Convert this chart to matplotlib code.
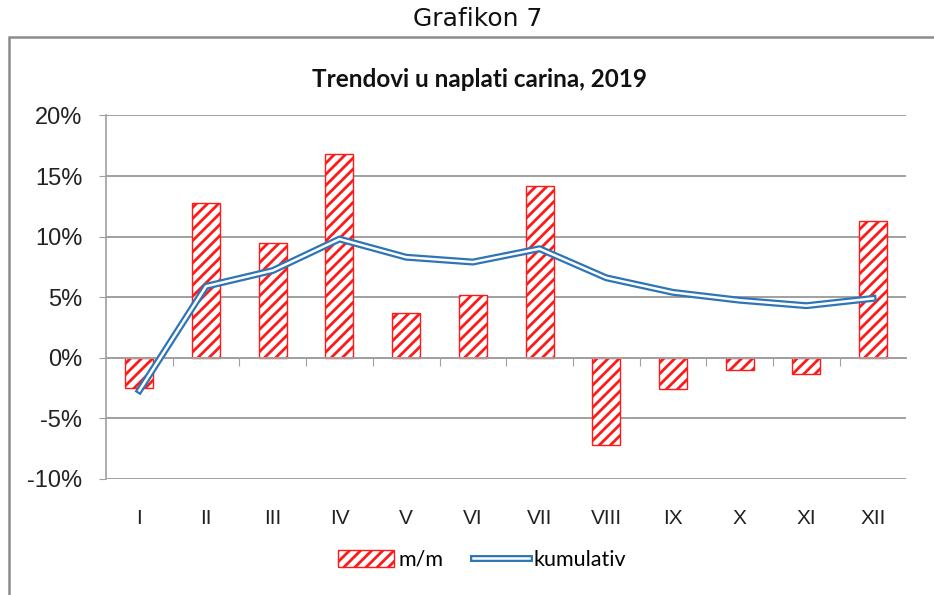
import matplotlib
matplotlib.use("Agg")
import matplotlib.pyplot as plt
from matplotlib.patches import Patch, Rectangle
from matplotlib.lines import Line2D
import matplotlib.patheffects as pe
import matplotlib.transforms as mtransforms
import numpy as np

months = ["I", "II", "III", "IV", "V", "VI", "VII", "VIII", "IX", "X", "XI", "XII"]
mm = [-2.5, 12.8, 9.5, 16.8, 3.7, 5.2, 14.2, -7.2, -2.6, -1.0, -1.3, 11.3]
kumulativ = [-2.7, 5.9, 7.2, 9.8, 8.3, 7.9, 9.0, 6.6, 5.4, 4.75, 4.3, 4.9]
yticks = [-10, -5, 0, 5, 10, 15, 20]

RED = "#ff1a1a"
BLUE = "#2e75b6"
GRID = "#a0a0a0"

plt.rcParams["hatch.linewidth"] = 2.0
plt.rcParams["font.family"] = ["Liberation Sans", "DejaVu Sans"]

fig = plt.figure(figsize=(9.34, 5.95), dpi=100)
ax = fig.add_axes([0.1135, 0.195, 0.857, 0.611])

# double line look: white core with blue outline
double = [pe.Stroke(linewidth=5.0, foreground=BLUE), pe.Normal()]

x = np.arange(len(months))
ax.bar(x, mm, width=0.42, color="white", edgecolor=RED, hatch="///",
       linewidth=1.0, zorder=2)
ax.plot(x, kumulativ, color="white", lw=1.8, solid_joinstyle="round",
        path_effects=double, zorder=3)

ax.set_xlim(-0.5, len(months) - 0.5)
ax.set_ylim(-10, 20)
ax.set_yticks(yticks)
ax.set_yticklabels([f"{v}%" for v in yticks], fontsize=17, color="#222222")
ax.yaxis.grid(True, color=GRID, lw=1.4, zorder=0)
ax.set_axisbelow(True)

for s in ["top", "right"]:
    ax.spines[s].set_visible(False)
ax.spines["left"].set_color(GRID)
ax.spines["left"].set_linewidth(1.2)
ax.spines["bottom"].set_position(("data", 0))
ax.spines["bottom"].set_color(GRID)
ax.spines["bottom"].set_linewidth(1.4)
ax.tick_params(axis="y", length=5, color=GRID, pad=12)
ax.set_xticks(np.arange(0.5, len(months) - 0.5))
ax.set_xticklabels([])
ax.tick_params(axis="x", length=6, color=GRID, direction="out")

trans = mtransforms.blended_transform_factory(ax.transData, ax.transAxes)
for xi, lab in zip(x, months):
    ax.text(xi, -0.083, lab, transform=trans, ha="center", va="top",
            fontsize=15, color="#222222")

fig.text(0.513, 0.866, "Trendovi u naplati carina, 2019", ha="center", va="center",
         fontsize=17.5, fontweight="bold", family=["Lato", "DejaVu Sans"],
         color="#111111")

fig.text(0.511, 0.968, "Grafikon 7", ha="center", va="center", fontsize=18,
         family="DejaVu Sans", color="#111111")

fig.add_artist(Rectangle((9 / 934, -0.2), 1.2, 1.2 - 37 / 595,
                         transform=fig.transFigure, fill=False,
                         edgecolor="#8c8c8c", lw=1.8))

handles = [Patch(facecolor="white", edgecolor=RED, hatch="///", lw=1.0),
           Line2D([], [], color="white", lw=1.8, path_effects=double)]
fig.legend(handles, ["m/m", "kumulativ"], loc="center", bbox_to_anchor=(0.516, 0.059),
           ncol=2, frameon=False, handlelength=2.6, handleheight=0.8,
           handletextpad=0.2, columnspacing=1.4,
           prop={"family": ["Lato", "DejaVu Sans"], "size": 15.5})

fig.savefig("out.png", dpi=100)
